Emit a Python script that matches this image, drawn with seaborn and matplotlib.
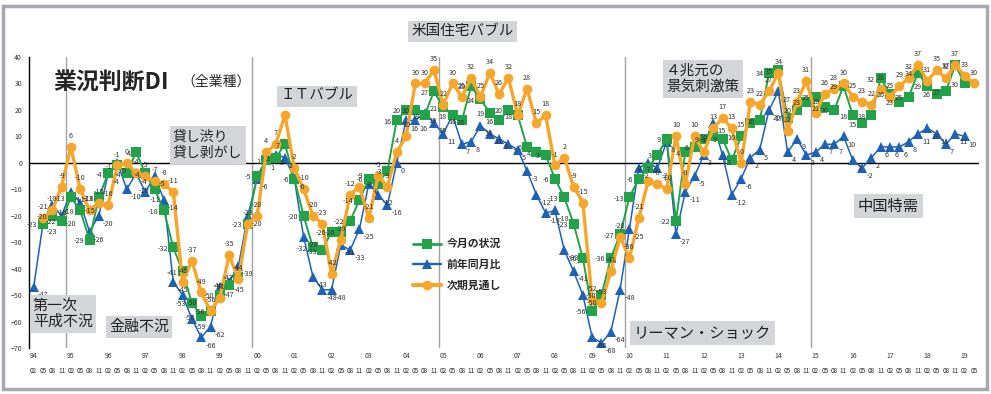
import matplotlib
matplotlib.use("Agg")
import matplotlib.pyplot as plt
from matplotlib.lines import Line2D
from matplotlib.patches import Rectangle
import numpy as np
import pandas as pd
import seaborn as sns

# quarterly periods 94/02 .. 19/05
years = [f"{y % 100:02d}" for y in range(1994, 2020)]
months = ["02", "05", "08", "11"]

# 今月の状況 (None = no survey value)
genjo = [None, -23, -20, -22, -13, -18, -29, -13, -4, -1, -4, 4, -4, -10, -18, -32,
         -41, -53, -58, -56, -50, -46, -43, -23, -5, 1, 2, 7, -6, -20, -32, -33,
         -26, -26, -22, -14, -6, -8, -3, 16, 20, 20, 18, 27, 21, 18, 16, 29,
         24, 19, 16, 20, 18, 6, 4, 3, -6, -13, -23, -36, -56, -50, -36, -27,
         -13, -6, -2, 3, 9, -22, 4, 6, 9, 10, 9, 1, 10, 15, 16, 34,
         35, 17, 20, 23, 25, 21, 20, 29, 18, 15, 18, 32, 26, 23, 25, 34,
         29, 26, 27, 37, 30, None]
# 前年同月比
zennen = [-47, -23, -16, -20, -11, -15, -26, -20, -4, 0, -10, -4, -11, -5, -14, -45,
          -50, -59, -66, -62, -47, -45, -39, -20, -6, 1, 3, 2, -6, -28, -43, -48,
          -48, -31, -33, -25, -8, -12, -16, 0, 16, 16, 19, 15, 11, 18, 7, 8,
          14, 11, 9, 7, 5, -3, -12, -19, -18, -33, -41, -50, -66, -68, -64, -48,
          -25, -2, 0, -2, 8, -27, -11, -5, 3, 15, 3, -12, -6, 2, 5, 20,
          27, 4, 9, 3, 4, 7, 7, 10, 1, -2, 2, 6, 6, 6, 8, 11,
          13, 11, 7, 11, 10, None]
# 次期見通し
jiki = [None, -21, -18, -9, 6, -10, -18, -15, -16, -1, 0, -4, -5, -7, -8, -11,
        -45, -37, -49, -56, -51, -35, -44, -23, -20, 4, 7, 18, -2, -10, -20, -23,
        -42, -29, -12, -9, -21, -5, -9, 4, 10, 30, 30, 35, 22, 30, 25, 32,
        25, 34, 26, 32, 18, 28, 15, 18, -1, 2, -9, -15, -52, -53, -41, -28,
        -36, -21, -7, -8, -10, 10, -8, 10, 4, 13, 17, 13, 0, 23, 22, 27,
        34, 12, 23, 31, 19, 26, 28, 30, 25, 23, 22, 28, 25, 29, 32, 37,
        31, 35, 32, 37, 33, 30]

series_names = ["今月の状況", "前年同月比", "次期見通し"]
colors = {"今月の状況": "#22a34a", "前年同月比": "#1d62b4", "次期見通し": "#f6a62a"}

n = len(jiki)
df = pd.DataFrame({"idx": np.arange(n),
                   "今月の状況": pd.array(genjo, dtype="Float64"),
                   "前年同月比": pd.array(zennen, dtype="Float64"),
                   "次期見通し": pd.array(jiki, dtype="Float64")}).astype(float)

sns.set_style("white")
plt.rcParams["font.family"] = ["Noto Sans CJK JP", "DejaVu Sans"]

W, H = 991, 394
fig = plt.figure(figsize=(W / 100, H / 100), dpi=100)
# outer grey frame
fig.patches.append(Rectangle((3 / W, 5 / H), 984 / W, 383 / H, transform=fig.transFigure,
                             fill=False, edgecolor="#a9a8b0", linewidth=2.5))

x0, x1, y0, y1 = 29, 978.5, 57, 348
ax = fig.add_axes([x0 / W, 1 - y1 / H, (x1 - x0) / W, (y1 - y0) / H])

for v in [3.5, 23.5, 43.5, 63.5, 83.5]:
    ax.axvline(v, color="#a3a3a3", linewidth=1.0, zorder=0)
ax.axhline(0, color="black", linewidth=1.0, zorder=1)

styles = {
    "前年同月比": dict(marker="^", markersize=6.5, linewidth=1.1),
    "今月の状況": dict(marker="s", markersize=6.5, linewidth=1.4),
    "次期見通し": dict(marker="o", markersize=7, linewidth=2.4),
}
for name in ["前年同月比", "今月の状況", "次期見通し"]:
    sub = df[["idx", name]].dropna()
    sns.lineplot(data=sub, x="idx", y=name, ax=ax, color=colors[name],
                 markeredgewidth=0, **styles[name])

# data labels
lab_kw = dict(fontsize=5.2, color="#333333", textcoords="offset points", clip_on=False)
for i, v in enumerate(jiki):
    if v is not None:
        ax.annotate(str(v), (i, v), xytext=(0, 5), ha="center", va="bottom", **lab_kw)
for i, v in enumerate(genjo):
    if v is not None:
        ax.annotate(str(v), (i, v), xytext=(-4, -1), ha="right", va="center", **lab_kw)
for i, v in enumerate(zennen):
    if v is not None:
        ax.annotate(str(v), (i, v), xytext=(3, -3), ha="left", va="top", **lab_kw)

ax.set_xlim(-0.5, n - 0.5)
ax.set_ylim(-70, 40)
ax.set_yticks(range(-70, 41, 10))
ax.tick_params(axis="y", labelsize=5, length=3, width=0.8, colors="#333333", pad=2)
ax.set_xticks(range(n))
ax.set_xticklabels([months[i % 4] for i in range(n)], fontsize=4.6)
ax.tick_params(axis="x", length=0, pad=14)
for k, yy in enumerate(years):
    ax.text(4 * k, -0.027, yy, transform=ax.get_xaxis_transform(), ha="center",
            va="center", fontsize=5, color="#333333")
ax.set_xlabel("")
ax.set_ylabel("")
for s in ["top", "right", "bottom"]:
    ax.spines[s].set_visible(False)
ax.spines["left"].set_color("black")
ax.spines["left"].set_linewidth(1.0)

# legend
handles = [Line2D([], [], color=colors[nm], linewidth=styles[nm]["linewidth"] + 0.6,
                  marker=styles[nm]["marker"], markersize=styles[nm]["markersize"],
                  markeredgewidth=0) for nm in series_names]
ax.legend(handles, series_names, loc="upper left", bbox_to_anchor=(0.40, 0.39),
          frameon=False, prop={"weight": "bold", "size": 7.8}, handlelength=2.6,
          labelspacing=0.95, borderaxespad=0, handletextpad=0.5)

# annotations
box = dict(facecolor="#d3d5d8", edgecolor="none", pad=2.5)
def note(x, y, s, size=10.5, ha="left"):
    fig.text(x / W, 1 - y / H, s, fontsize=size, ha=ha, va="center", color="#222222",
             bbox=box, linespacing=1.2)

fig.text(53 / W, 1 - 82 / H, "業況判断DI", fontsize=16.5, fontweight="bold", va="center")
fig.text(181 / W, 1 - 82 / H, "（全業種）", fontsize=10, va="center")
note(173, 145, "貸し渋り\n貸し剥がし", 10)
note(280, 96, "ＩＴバブル", 10.5)
note(411, 31, "米国住宅バブル", 10.5)
note(666, 79, "４兆元の\n景気刺激策", 10.5)
note(33, 314, "第一次\n平成不況", 10.8)
note(109, 327, "金融不況", 10.8)
note(634, 333, "リーマン・ショック", 11)
note(858, 206, "中国特需", 11)

fig.savefig("out.png", dpi=100)
